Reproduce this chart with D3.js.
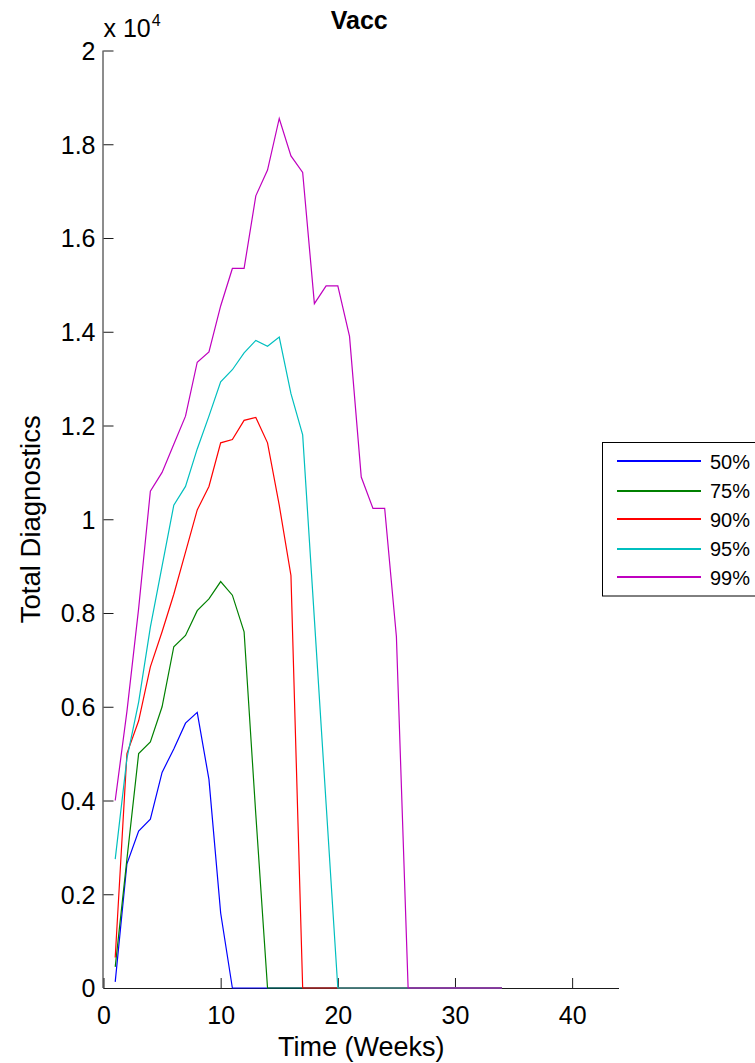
<!DOCTYPE html>
<html>
<head>
<meta charset="utf-8">
<script src="https://cdn.jsdelivr.net/npm/d3@7"></script>
<style>
  html, body { margin: 0; padding: 0; background: #fff; }
  svg { display: block; font-family: "Liberation Sans", Arial, sans-serif; }
</style>
</head>
<body>
<svg id="chart" width="755" height="1063"></svg>
<script>
// ---- data ----
const weeks = d3.range(1, 35); // 1..34
const seriesNames = ["50%", "75%", "90%", "95%", "99%"];
const seriesColors = ["#0000ff", "#008000", "#ff0000", "#00bfbf", "#bf00bf"];
const pad = n => new Array(n).fill(0);
const s50 = [130, 2650, 3350, 3600, 4600, 5100, 5650, 5880, 4450, 1600, 0].concat(pad(23));
const s75 = [450, 2750, 5000, 5250, 6000, 7280, 7520, 8050, 8300, 8670, 8380, 7600, 3700, 0].concat(pad(20));
const s90 = [650, 5000, 5700, 6850, 7600, 8400, 9300, 10200, 10700, 11630, 11700, 12110, 12170, 11630, 10300, 8800, 0].concat(pad(17));
const s95 = [2750, 4900, 6100, 7700, 9000, 10300, 10700, 11500, 12200, 12930, 13190, 13550, 13815, 13690, 13886, 12680, 11800, 7870, 3930, 0].concat(pad(14));
const s99 = [4000, 5900, 8100, 10600, 11000, 11600, 12200, 13350, 13570, 14550, 15350, 15350, 16900, 17450, 18550, 17750, 17400, 14600, 14980, 14980, 13900, 10900, 10230, 10230, 7500, 0].concat(pad(8));
const seriesValues = [s50, s75, s90, s95, s99];
const xTicks = [0, 10, 20, 30, 40];
const yTicks = [0, 2000, 4000, 6000, 8000, 10000, 12000, 14000, 16000, 18000, 20000];
const yTickLabels = ["0", "0.2", "0.4", "0.6", "0.8", "1", "1.2", "1.4", "1.6", "1.8", "2"];
const titleText = "Vacc";
const xLabelText = "Time (Weeks)";
const yLabelText = "Total Diagnostics";

// ---- layout ----
const svg = d3.select("#chart");
const L = 103.5, R = 619, T = 50.5, B = 988;
const x = d3.scaleLinear().domain([0, 44]).range([L, R]);
const y = d3.scaleLinear().domain([0, 20000]).range([B, T]);
const axisColor = "#1a1a1a";

// x axis
const xAxis = d3.axisBottom(x).tickValues(xTicks).tickSizeInner(-10).tickSizeOuter(0).tickPadding(0).tickFormat(d3.format("d"));
const gx = svg.append("g").attr("transform", `translate(0,${B})`).call(xAxis);
gx.select(".domain").attr("stroke", axisColor).attr("d", `M${L},0.5H${R}`);
gx.selectAll(".tick line").attr("stroke", axisColor);
gx.selectAll(".tick text").attr("font-size", 25).attr("fill", "#000")
  .attr("font-family", "Liberation Sans, Arial, sans-serif")
  .attr("dy", null).attr("y", 36);

// y axis
const yAxis = d3.axisLeft(y).tickValues(yTicks).tickSizeInner(-10).tickSizeOuter(0).tickPadding(0)
  .tickFormat((d, i) => yTickLabels[i]);
const gy = svg.append("g").attr("transform", `translate(${L},0)`).call(yAxis);
gy.select(".domain").attr("stroke", axisColor).attr("d", `M-0.5,${T}V${B}`);
gy.selectAll(".tick line").attr("stroke", axisColor);
gy.selectAll(".tick text").attr("font-size", 25).attr("fill", "#000")
  .attr("font-family", "Liberation Sans, Arial, sans-serif")
  .attr("x", -8).attr("dy", "0.35em");

// lines (drawn over the axes, so zero segments show on the baseline)
const line = d3.line().x((d, i) => x(weeks[i])).y(d => y(d));
seriesValues.forEach((vals, k) => {
  svg.append("path")
    .datum(vals)
    .attr("fill", "none")
    .attr("stroke", seriesColors[k])
    .attr("stroke-width", 1.2)
    .attr("stroke-linejoin", "miter")
    .attr("d", line);
});

// exponent multiplier
const mult = svg.append("text").attr("x", L).attr("y", 36.5).attr("font-size", 25).attr("fill", "#000");
mult.append("tspan").text("x 10");
mult.append("tspan").attr("font-size", 16).attr("dy", -11).attr("dx", 1).text("4");

// title
svg.append("text").attr("x", (L + R) / 2 - 2).attr("y", 28.5)
  .attr("text-anchor", "middle").attr("font-size", 25).attr("font-weight", "bold").attr("fill", "#000")
  .text(titleText);

// x label
svg.append("text").attr("x", (L + R) / 2).attr("y", 1056)
  .attr("text-anchor", "middle").attr("font-size", 27).attr("fill", "#000")
  .text(xLabelText);

// y label
svg.append("text").attr("transform", `translate(40,${(T + B) / 2}) rotate(-90)`)
  .attr("text-anchor", "middle").attr("font-size", 27.5).attr("fill", "#000")
  .text(yLabelText);

// legend
const lg = svg.append("g");
lg.append("rect").attr("x", 602.5).attr("y", 442.5).attr("width", 170).attr("height", 153.5)
  .attr("fill", "#fff").attr("stroke", "#000").attr("stroke-width", 1);
seriesNames.forEach((name, k) => {
  const cy = 2 * Math.floor((461 + k * 29) / 2) + 1;
  lg.append("line").attr("x1", 617).attr("x2", 701).attr("y1", cy).attr("y2", cy)
    .attr("stroke", seriesColors[k]).attr("stroke-width", 2);
  lg.append("text").attr("x", 710).attr("y", 461.5 + k * 29).attr("dy", "0.36em")
    .attr("font-size", 20).attr("fill", "#000").text(name);
});
</script>
</body>
</html>
